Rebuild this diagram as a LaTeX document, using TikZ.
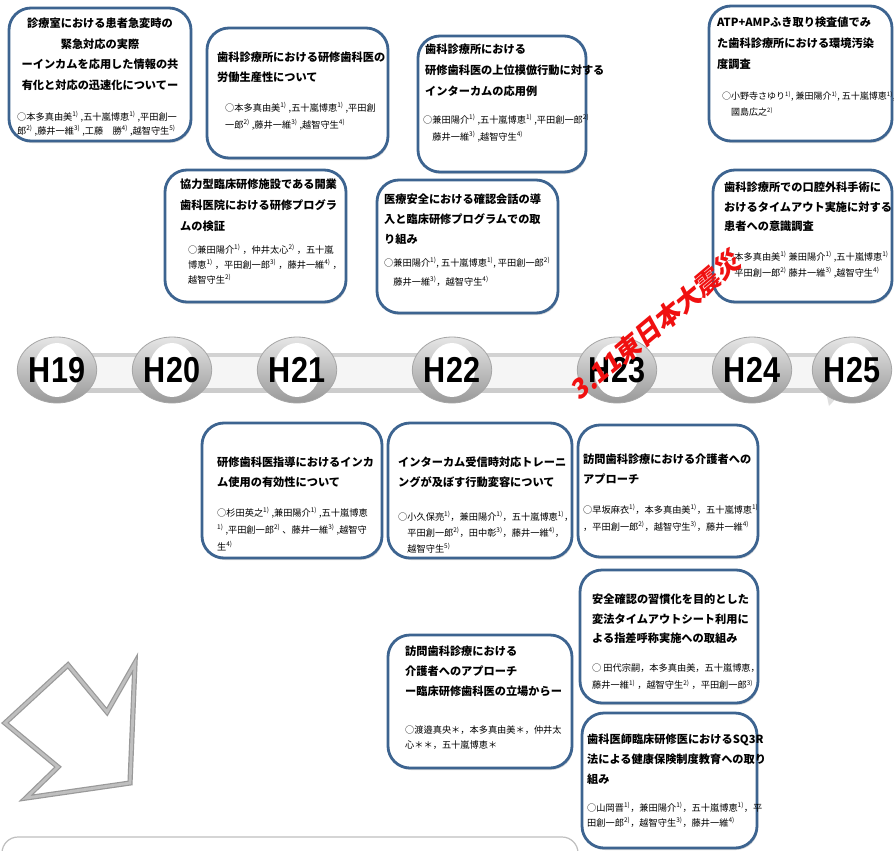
\documentclass[tikz,border=0pt]{standalone}
\usepackage{fontspec}
\setmainfont{Noto Sans CJK JP}
\newfontfamily\yrfont[FakeStretch=0.85]{Liberation Sans}
\newfontfamily\quakefont[FakeSlant=0.2]{Noto Sans CJK JP}
\usetikzlibrary{positioning}
\usetikzlibrary{shapes.geometric}
\usetikzlibrary{shadows}
\definecolor{paperblue}{HTML}{3D6490}
\definecolor{quakered}{HTML}{F01010}
\newcommand{\aff}[1]{\textsuperscript{#1)}}

\begin{document}
\begin{tikzpicture}[x=1pt, y=-1pt,
    paper/.style={draw=paperblue, line width=2.8pt, rounded corners=22pt,
      fill=white, inner sep=0pt,
      drop shadow={opacity=0.3, shadow xshift=1pt, shadow yshift=-2pt}},
    ttl/.style={anchor=north west, align=left, inner sep=0pt,
      font=\bfseries\fontsize{11.2}{20}\selectfont},
    auth/.style={anchor=north west, align=left, inner sep=0pt,
      font=\fontsize{9.2}{16}\selectfont},
    yr/.style={ellipse, minimum width=58pt, minimum height=66pt, inner sep=0pt,
      top color=gray!20, bottom color=gray!80, draw=gray!70, line width=0.8pt,
      path picture={\fill[white] (path picture bounding box.center)
        ellipse (23pt and 27pt);},
      font=\yrfont\bfseries\fontsize{36}{36}\selectfont},
    quake/.style={rotate=40, text=quakered, inner sep=0pt,
      font=\quakefont\bfseries\fontsize{26}{26}\selectfont},
  ]

    \clip (0,0) rectangle (894,851);
    \fill[white] (0,0) rectangle (894,851);

    % Timeline band
    \fill[gray!8] (40,355) rectangle (858,390);
    \draw[gray!35, line width=4pt] (40,355) -- (858,355);
    \draw[gray!40, line width=5pt] (40,390) -- (858,390);
    \fill[gray!25] (826,392) -- (842,392) -- (829,406) -- cycle;

    % Year marks
    \foreach \yr/\x in {19/57, 20/172, 21/297, 22/452, 23/617, 24/752, 25/852}
      \node[yr] (h\yr) at (\x,370) {H\yr};

    % Upper row
    \node[paper, minimum width=182pt, minimum height=133pt] (pA) at (100,74.5) {};
    \node[ttl, anchor=north, align=center,
      font=\bfseries\fontsize{11.2}{20.5}\selectfont] (tA) at (100,18)
      {診療室における患者急変時の\\緊急対応の実際\\ーインカムを応用した情報の共\\有化と対応の迅速化についてー};
    \node[auth, font=\fontsize{9.2}{14}\selectfont] (aA) at (17,111)
      {○本多真由美\aff{1} ,五十嵐博恵\aff{1} ,平田創一\\郎\aff{2} ,藤井一維\aff{3} ,工藤　勝\aff{4} ,越智守生\aff{5}};

    \node[paper, minimum width=181pt, minimum height=130pt] (pB) at (297.5,93) {};
    \node[ttl] (tB) at (217,52) {歯科診療所における研修歯科医の\\労働生産性について};
    \node[auth, font=\fontsize{9.2}{17}\selectfont] (aB) at (225,102)
      {○本多真由美\aff{1} ,五十嵐博恵\aff{1} ,平田創\\一郎\aff{2} ,藤井一維\aff{3} ,越智守生\aff{4}};

    \node[paper, minimum width=168pt, minimum height=136pt] (pC) at (502,104) {};
    \node[ttl, font=\bfseries\fontsize{11.2}{21}\selectfont] (tC) at (425,44)
      {歯科診療所における\\研修歯科医の上位模倣行動に対する\\インターカムの応用例};
    \node[auth, font=\fontsize{9.2}{17}\selectfont] (aC) at (423,114)
      {○兼田陽介\aff{1} ,五十嵐博恵\aff{1} ,平田創一郎\aff{2}\\　藤井一維\aff{3} ,越智守生\aff{4}};

    \node[paper, minimum width=183pt, minimum height=135pt] (pD) at (800.5,73.5) {};
    \node[ttl, font=\bfseries\fontsize{11.2}{21}\selectfont] (tD) at (717,17)
      {ATP+AMPふき取り検査値でみ\\た歯科診療所における環境汚染\\度調査};
    \node[auth, font=\fontsize{9}{16}\selectfont] (aD) at (722,91)
      {○小野寺さゆり\aff{1}, 兼田陽介\aff{1}, 五十嵐博恵\aff{1},\\　國島広之\aff{2}};

    \node[paper, minimum width=181pt, minimum height=132pt] (pE) at (255.5,236) {};
    \node[ttl, font=\bfseries\fontsize{11.2}{21}\selectfont] (tE) at (180,179)
      {協力型臨床研修施設である開業\\歯科医院における研修プログラ\\ムの検証};
    \node[auth, font=\fontsize{9.2}{15}\selectfont] (aE) at (188,244)
      {○兼田陽介\aff{1} ，仲井太心\aff{2} ，五十嵐\\博恵\aff{1} ，平田創一郎\aff{3} ，藤井一維\aff{4} ，\\越智守生\aff{2}};

    \node[paper, minimum width=181pt, minimum height=133pt] (pF) at (467.5,246.5) {};
    \node[ttl] (tF) at (384,194)
      {医療安全における確認会話の導\\入と臨床研修プログラムでの取\\り組み};
    \node[auth, font=\fontsize{9.2}{19}\selectfont] (aF) at (384,257)
      {○兼田陽介\aff{1}, 五十嵐博恵\aff{1}, 平田創一郎\aff{2}\\　藤井一維\aff{3}，越智守生\aff{4}};

    \node[paper, minimum width=179pt, minimum height=132pt] (pG) at (802.5,236) {};
    \node[ttl, font=\bfseries\fontsize{11.2}{19.5}\selectfont] (tG) at (724,182)
      {歯科診療所での口腔外科手術に\\おけるタイムアウト実施に対する\\患者への意識調査};
    \node[auth] (aG) at (725,251)
      {○本多真由美\aff{1} 兼田陽介\aff{1} ,五十嵐博恵\aff{1}\\　平田創一郎\aff{2} 藤井一維\aff{3} ,越智守生\aff{4}};

    % Lower row
    \node[paper, minimum width=180pt, minimum height=135pt] (pH) at (292,490.5) {};
    \node[ttl] (tH) at (217,457) {研修歯科医指導におけるインカ\\ム使用の有効性について};
    \node[auth, font=\fontsize{9.2}{17}\selectfont] (aH) at (217,507)
      {○杉田英之\aff{1} ,兼田陽介\aff{1} ,五十嵐博恵\\\aff{1} ,平田創一郎\aff{2} 、藤井一維\aff{3} ,越智守\\生\aff{4}};

    \node[paper, minimum width=184pt, minimum height=135pt] (pI) at (480,490.5) {};
    \node[ttl] (tI) at (398,457) {インターカム受信時対応トレーニ\\ングが及ぼす行動変容について};
    \node[auth] (aI) at (398,511)
      {○小久保亮\aff{1}，兼田陽介\aff{1}，五十嵐博恵\aff{1}，\\　平田創一郎\aff{2}，田中彰\aff{3}，藤井一維\aff{4}，\\　越智守生\aff{5}};

    \node[paper, minimum width=180pt, minimum height=132pt] (pJ) at (668,491) {};
    \node[ttl] (tJ) at (583,454) {訪問歯科診療における介護者への\\アプローチ};
    \node[auth, font=\fontsize{9.2}{17}\selectfont] (aJ) at (583,504)
      {○早坂麻衣\aff{1}，本多真由美\aff{1}，五十嵐博恵\aff{1}\\，平田創一郎\aff{2}，越智守生\aff{3}，藤井一維\aff{4}};

    \node[paper, minimum width=178pt, minimum height=133pt] (pK) at (669,636.5) {};
    \node[ttl, font=\bfseries\fontsize{11.2}{19.5}\selectfont] (tK) at (592,594)
      {安全確認の習慣化を目的とした\\変法タイムアウトシート利用に\\よる指差呼称実施への取組み};
    \node[auth, font=\fontsize{9.2}{17}\selectfont] (aK) at (592,664)
      {○ 田代宗嗣，本多真由美，五十嵐博恵，\\藤井一維\aff{1} ，越智守生\aff{2} ，平田創一郎\aff{3}};

    \node[paper, minimum width=184pt, minimum height=133pt] (pL) at (480,701.5) {};
    \node[ttl] (tL) at (405,646)
      {訪問歯科診療における\\介護者へのアプローチ\\ー臨床研修歯科医の立場からー};
    \node[auth, font=\fontsize{9.2}{15}\selectfont] (aL) at (405,726)
      {○渡邉真央＊，本多真由美＊，仲井太\\心＊＊，五十嵐博恵＊};

    \node[paper, minimum width=175pt, minimum height=135pt] (pM) at (669.5,780.5) {};
    \node[ttl] (tM) at (587,734)
      {歯科医師臨床研修医におけるSQ3R\\法による健康保険制度教育への取り\\組み};
    \node[auth, font=\fontsize{9.2}{15}\selectfont] (aM) at (587,802)
      {○山岡晋\aff{1}，兼田陽介\aff{1}，五十嵐博恵\aff{1}，平\\田創一郎\aff{2}，越智守生\aff{3}，藤井一維\aff{4}};

    % Earthquake mark over the boxes
    \node[quake] (quake) at (655,326) {3.11東日本大震災};

    % Pointer and bottom panel
    \draw[fill=white, draw=gray!80, line width=1.2pt, double=gray!50,
      double distance=2.8pt, line join=miter]
      (5,723) -- (68,665) -- (107,712) -- (135,663) -- (130,783)
      -- (26,798) -- (58,767) -- cycle;
    \node[draw=gray!50, line width=1.2pt, rounded corners=16pt, fill=white,
      minimum width=576pt, minimum height=60pt,
      drop shadow={opacity=0.25, shadow xshift=0pt, shadow yshift=-2pt}]
      (panel) at (290,867) {};

\end{tikzpicture}
\end{document}
